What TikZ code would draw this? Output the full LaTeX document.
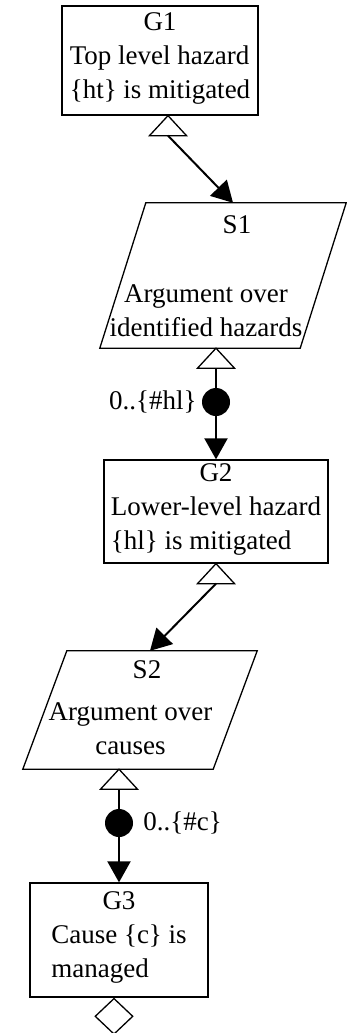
\documentclass[tikz,border=0pt]{standalone}
\usepackage{fontspec}
\setmainfont{Liberation Serif}
\usetikzlibrary{shapes.geometric}
\usetikzlibrary{arrows.meta}
\usetikzlibrary{positioning}

\tikzset{
    goal/.style={draw, line width=1.3pt, rectangle, inner sep=0pt, align=center},
    strategy/.style={rectangle, inner sep=0pt},
    outline/.style={line width=1.3pt, line join=miter},
    link/.style={line width=2pt, -{Triangle[length=21pt,width=23pt]}},
    card/.style={circle, fill=black, minimum size=28pt, inner sep=0pt},
    cardlabel/.style={inner sep=0pt},
    undev/.style={draw, line width=1.3pt, diamond, fill=white, minimum width=38pt, minimum height=36pt, inner sep=0pt, anchor=north},
    tailmark/.pic={
        \draw[line width=1.3pt, fill=white] (0,0) -- (-18.5,20) -- (18.5,20) -- cycle;
        \coordinate (-base) at (0,20);
    }
}

\begin{document}
\begin{tikzpicture}[x=1pt, y=-1pt, font=\fontsize{27}{34}\selectfont]
    \useasboundingbox (0,0) rectangle (347,1033);

    % goals and strategies
    \node[goal, minimum width=196pt, minimum height=109pt] (g1) at (160,60.5) {G1\\
        \begin{tabular}[t]{@{}l@{}}Top level hazard\\\{ht\} is mitigated\end{tabular}};

    \node[strategy, minimum width=200pt, minimum height=145pt] (s1) at (223,275.5) {};
    \draw[outline] ([xshift=23pt]s1.north west) -- ([xshift=23pt]s1.north east)
        -- ([xshift=-23pt]s1.south east) -- ([xshift=-23pt]s1.south west) -- cycle;
    \node (s1id) at (237,225) {S1};
    \node[align=center] (s1txt) at (206,311) {Argument over\\identified hazards};

    \node[goal, minimum width=224pt, minimum height=103pt] (g2) at (216,511.5) {G2\\
        \begin{tabular}[t]{@{}l@{}}Lower-level hazard\\\{hl\} is mitigated\end{tabular}};

    \node[strategy, minimum width=190pt, minimum height=118pt] (s2) at (140,710) {};
    \draw[outline] ([xshift=22pt]s2.north west) -- ([xshift=22pt]s2.north east)
        -- ([xshift=-22pt]s2.south east) -- ([xshift=-22pt]s2.south west) -- cycle;
    \node (s2id) at (147,670) {S2};
    \node[align=center] (s2txt) at (130.5,729) {Argument over\\causes};

    \node[goal, minimum width=178pt, minimum height=114pt] (g3) at (119,940) {G3\\
        \begin{tabular}[t]{@{}l@{}}Cause \{c\} is\\managed\end{tabular}};
    \node[undev] (g3u) at ([xshift=-5pt]g3.south) {};

    % tails, cardinality dots
    \pic (g1t) at ([xshift=8pt]g1.south) {tailmark};
    \pic (s1t) at ([xshift=-7pt]s1.south) {tailmark};
    \pic (g2t) at (g2.south) {tailmark};
    \pic (s2t) at ([xshift=-21pt]s2.south) {tailmark};

    \node[card] (d1) at (216,402) {};
    \node[cardlabel, left=5pt of d1] (n1) {0..\{\#hl\}};
    \node[card] (d2) at (119,823) {};
    \node[cardlabel, right=10pt of d2] (n2) {0..\{\#c\}};

    \coordinate (s1in) at ([xshift=10pt]s1.north);
    \coordinate (s2in) at ([xshift=10pt]s2.north);

    \draw[link] (g1t-base) -- (s1in);
    \draw[link] (s1t-base) -- (d1) -- (g2.north);
    \draw[link] (g2t-base) -- (s2in);
    \draw[link] (s2t-base) -- (d2) -- (g3.north);
\end{tikzpicture}
\end{document}
